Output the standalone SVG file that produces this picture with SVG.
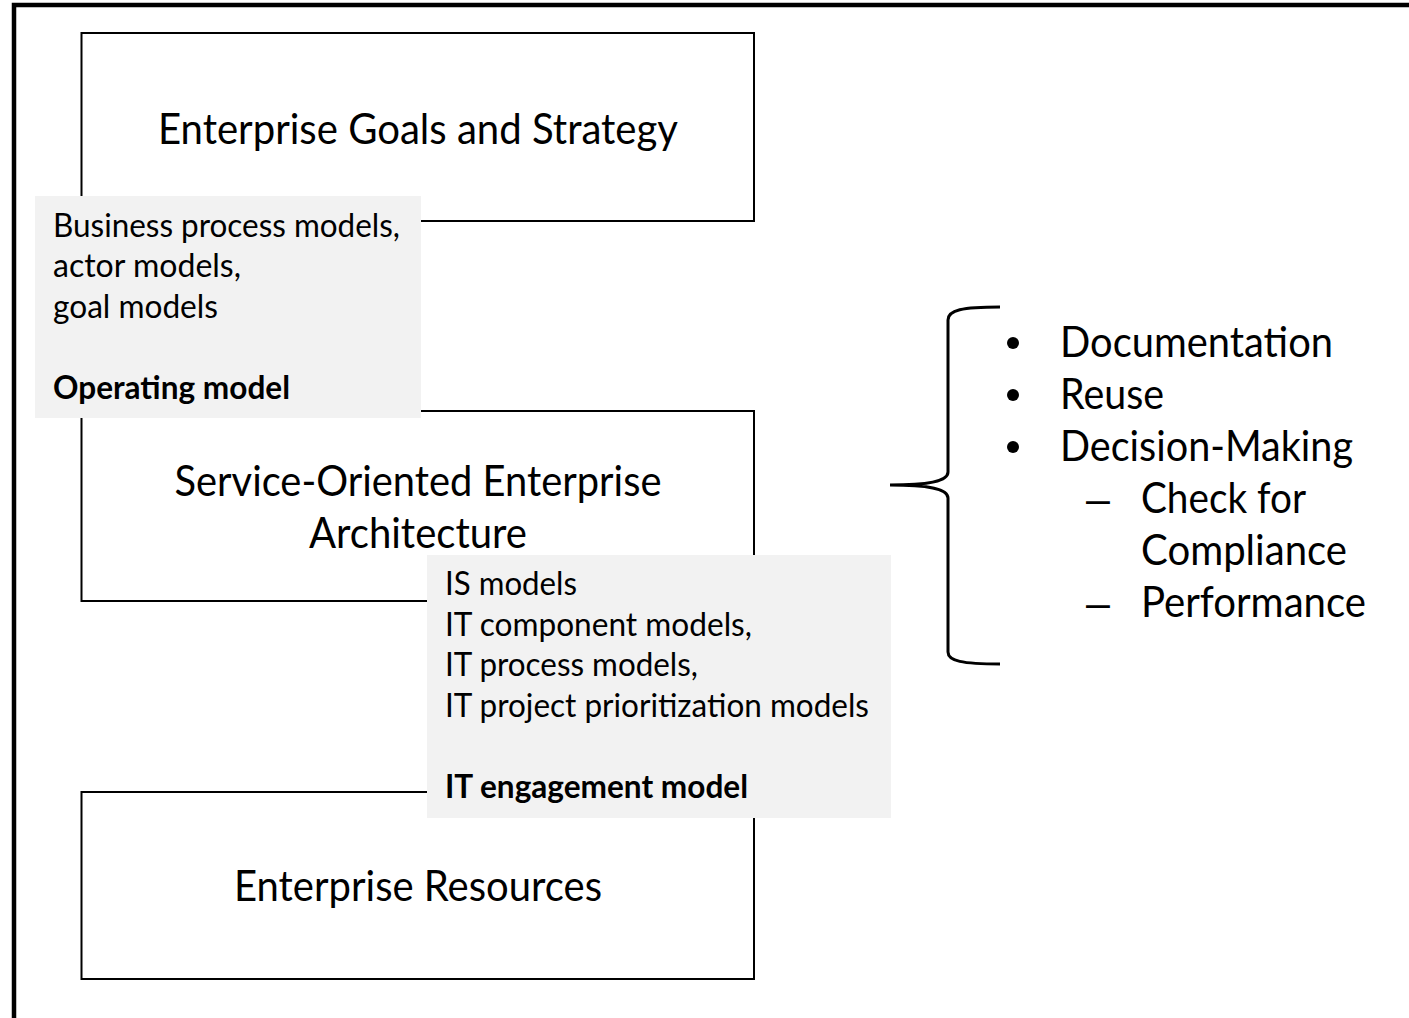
<svg xmlns="http://www.w3.org/2000/svg" width="1409" height="1018" viewBox="0 0 1409 1018">
  <style>
    .box { fill: #ffffff; stroke: #000000; stroke-width: 2; }
    .note { fill: #f2f2f2; stroke: none; }
    .t { font-family: Lato, "Liberation Sans", sans-serif; fill: #000000; }
    .sym { font-family: "Liberation Sans", sans-serif; fill: #000000; font-size: 43px; }
    .big { font-size: 43px; }
    .small { font-size: 33px; }
    .b { font-weight: bold; }
    .mid { text-anchor: middle; }
  </style>
  <defs>
    <circle id="bullet" r="6" fill="#000000"/>
  </defs>
  <rect x="0" y="0" width="1409" height="1018" fill="#ffffff"/>
  <path d="M14,1020 L14,5 L1412,5" fill="none" stroke="#000000" stroke-width="4.5"/>

  <g id="node-goals">
    <rect class="box" x="81.5" y="33" width="672.5" height="188"/>
    <text class="t big mid" x="418" y="144" textLength="520" lengthAdjust="spacingAndGlyphs">Enterprise Goals and Strategy</text>
  </g>
  <g id="node-soea">
    <rect class="box" x="81.5" y="411" width="672.5" height="190"/>
    <text class="t big mid" x="418" y="496" textLength="487" lengthAdjust="spacingAndGlyphs">Service-Oriented Enterprise</text>
    <text class="t big mid" x="418" y="548" textLength="218" lengthAdjust="spacingAndGlyphs">Architecture</text>
  </g>
  <g id="node-resources">
    <rect class="box" x="81.5" y="792" width="672.5" height="187"/>
    <text class="t big mid" x="418" y="901" textLength="368" lengthAdjust="spacingAndGlyphs">Enterprise Resources</text>
  </g>

  <g id="note-operating">
    <rect class="note" x="35" y="196" width="386" height="222"/>
    <text class="t small" x="53" y="237" textLength="347" lengthAdjust="spacingAndGlyphs">Business process models,</text>
    <text class="t small" x="53" y="277" textLength="188" lengthAdjust="spacingAndGlyphs">actor models,</text>
    <text class="t small" x="53" y="318" textLength="165" lengthAdjust="spacingAndGlyphs">goal models</text>
    <text class="t small b" x="53" y="399" textLength="237" lengthAdjust="spacingAndGlyphs">Operating model</text>
  </g>

  <g id="note-it">
    <rect class="note" x="427" y="555" width="464" height="263"/>
    <text class="t small" x="445" y="595" textLength="132" lengthAdjust="spacingAndGlyphs">IS models</text>
    <text class="t small" x="445" y="636" textLength="307" lengthAdjust="spacingAndGlyphs">IT component models,</text>
    <text class="t small" x="445" y="676" textLength="253" lengthAdjust="spacingAndGlyphs">IT process models,</text>
    <text class="t small" x="445" y="717" textLength="424" lengthAdjust="spacingAndGlyphs">IT project prioritization models</text>
    <text class="t small b" x="445" y="798" textLength="303" lengthAdjust="spacingAndGlyphs">IT engagement model</text>
  </g>

  <g id="connectors">
    <path d="M1000,307 C962,307 948,310 948,320 L948,472 C948,481 930,485 890,485 C930,485 948,489 948,498 L948,652 C948,661 962,664 1000,664" fill="none" stroke="#000000" stroke-width="3"/>
  </g>

  <g id="node-uses">
    <use href="#bullet" x="1013" y="343"/>
    <text class="t big" x="1060" y="357" textLength="273" lengthAdjust="spacingAndGlyphs">Documentation</text>
    <use href="#bullet" x="1013" y="395"/>
    <text class="t big" x="1060" y="409" textLength="104" lengthAdjust="spacingAndGlyphs">Reuse</text>
    <use href="#bullet" x="1013" y="447"/>
    <text class="t big" x="1060" y="461" textLength="293" lengthAdjust="spacingAndGlyphs">Decision-Making</text>
    <text class="sym mid" x="1098" y="513">–</text>
    <text class="t big" x="1141" y="513" textLength="165" lengthAdjust="spacingAndGlyphs">Check for</text>
    <text class="t big" x="1141" y="565" textLength="206" lengthAdjust="spacingAndGlyphs">Compliance</text>
    <text class="sym mid" x="1098" y="617">–</text>
    <text class="t big" x="1141" y="617" textLength="225" lengthAdjust="spacingAndGlyphs">Performance</text>
  </g>
</svg>
